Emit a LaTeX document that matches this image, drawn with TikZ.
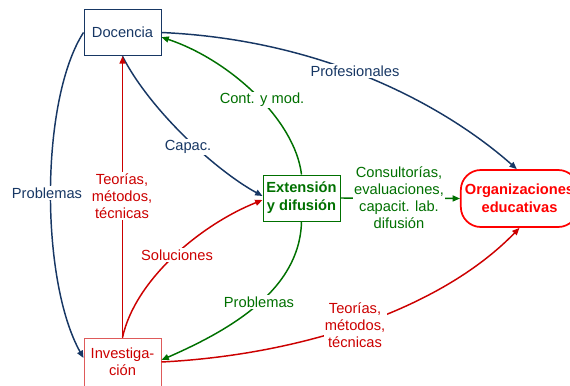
\documentclass[tikz,border=0pt]{standalone}
\usepackage{fontspec}
\setmainfont{Liberation Sans}
\usetikzlibrary{arrows.meta}
\definecolor{navy}{RGB}{23,55,100}
\definecolor{dgreen}{RGB}{0,112,0}
\definecolor{dred}{RGB}{204,0,0}
\definecolor{bred}{RGB}{255,0,0}
\definecolor{pred}{RGB}{222,90,90}
\begin{document}
\begin{tikzpicture}[x=0.75pt,y=-0.75pt,
  txt/.style={font=\fontsize{11}{12.75}\selectfont, align=center},
  box/.style={txt, draw, line width=0.75pt, minimum width=57.75pt, inner sep=1pt},
  lbl/.style={txt, fill=white, inner sep=1pt},
  link/.style={line width=1.1pt, -{Triangle[length=5.5pt,width=4.5pt]}}]
\useasboundingbox (0,0) rectangle (570,385);

% boxes
\node[box, draw=navy, text=navy, minimum height=35pt] (doc) at (122.5,32.5) {Docencia};
\node[box, draw=dgreen, text=dgreen, minimum height=34.5pt, font=\fontsize{11}{13.5}\selectfont\bfseries] (ext) at (301.5,198) {Extensión\\y difusión};
\node[box, draw=pred, text=dred, minimum height=36pt] (inv) at (122.5,362) {Investiga-\\ción};
\node[txt, draw=bred, text=bred, line width=1.3pt, rounded corners=15pt, minimum width=88pt, minimum height=42.75pt, inner sep=1pt, font=\fontsize{11}{13.5}\selectfont\bfseries] (org) at (519.5,198.5) {Organizaciones\\educativas};

% connectors
\draw[link, navy] (doc.east) .. controls (330,40) and (450,110) .. ([xshift=-2pt]org.north);
\draw[link, dgreen] (ext.north) .. controls (295,120) and (230,60) .. ([yshift=-3.5pt]doc.east);
\draw[link, navy] (doc.south) .. controls (150,110) and (215,170) .. ([yshift=1.5pt]ext.west);
\draw[link, navy] (doc.west) .. controls (40,100) and (40,280) .. ([yshift=3pt]inv.west);
\draw[link, dred] (inv.north) -- (doc.south);
\draw[link, dred] (inv.north) .. controls (135,280) and (200,225) .. ([yshift=-1.5pt]ext.west);
\draw[link, dgreen] (ext.south) .. controls (300,290) and (230,330) .. ([yshift=1.5pt]inv.east);
\draw[link, dred] (inv.east) .. controls (300,355) and (440,310) .. (org.south);
\draw[link, dgreen] (ext.east) -- (org.west);

% labels
\node[lbl, text=navy] (l1) at (355,71) {Profesionales};
\node[lbl, text=dgreen] (l2) at (262,100) {Cont. y mod.};
\node[lbl, text=navy] (l3) at (188,147) {Capac.};
\node[lbl, text=navy] (l4) at (47,193) {Problemas};
\node[lbl, text=dred] (l5) at (122,196) {Teorías,\\métodos,\\técnicas};
\node[lbl, text=dred] (l6) at (177,255) {Soluciones};
\node[lbl, text=dgreen] (l7) at (259,302) {Problemas};
\node[lbl, text=dred] (l8) at (355,325) {Teorías,\\métodos,\\técnicas};
\node[lbl, text=dgreen] (l9) at (399,198) {Consultorías,\\evaluaciones,\\capacit. lab.\\difusión};
\end{tikzpicture}
\end{document}
